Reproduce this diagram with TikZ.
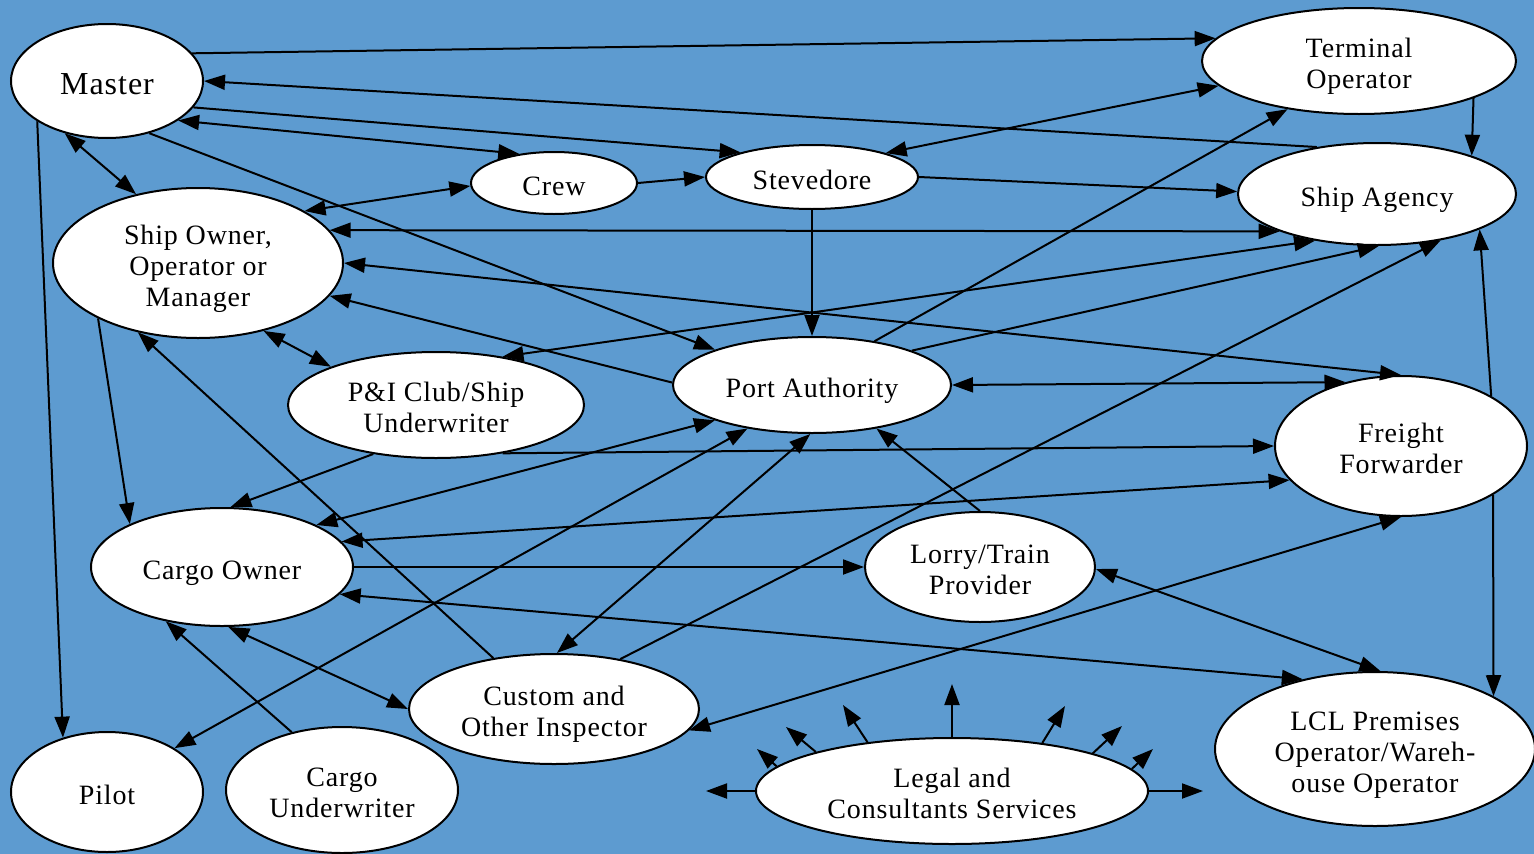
\documentclass[tikz,border=0pt]{standalone}
\usepackage{fontspec}
\setmainfont{Liberation Serif}[LetterSpace=3]
\usetikzlibrary{arrows.meta,shapes.geometric}
\definecolor{bgblue}{RGB}{93,155,208}
% label text: centred lines, set a little below the middle of the ellipse
\newcommand\lbl[1]{\raisebox{-6pt}[\height][\depth]{\begin{tabular}{@{}c@{}}#1\end{tabular}}}
\begin{document}
\begin{tikzpicture}[x=1pt,y=-1pt,
  actor/.style={ellipse, draw=black, fill=white, line width=2pt, inner sep=0pt,
    font=\fontsize{28}{31}\selectfont},
  link/.style={line width=2pt, -{Triangle[length=21pt,width=15pt]}},
  both/.style={line width=2pt, {Triangle[length=21pt,width=15pt]}-{Triangle[length=21pt,width=15pt]}},
]
\fill[bgblue] (0,0) rectangle (1534,854);
\useasboundingbox (0,0) rectangle (1534,854);

% actors
\node[actor, minimum width=192pt, minimum height=114pt, font=\fontsize{32}{35}\selectfont] (M) at (107,81) {\lbl{Master}};
\node[actor, minimum width=314pt, minimum height=106pt] (T) at (1359,61) {\lbl{Terminal\\Operator}};
\node[actor, minimum width=166pt, minimum height=62pt] (C) at (554,183) {\lbl{Crew}};
\node[actor, minimum width=212pt, minimum height=64pt] (S) at (812,177) {\lbl{Stevedore}};
\node[actor, minimum width=278pt, minimum height=102pt] (A) at (1377,194) {\lbl{Ship Agency}};
\node[actor, minimum width=290pt, minimum height=150pt] (O) at (198,263) {\lbl{Ship Owner,\\Operator or\\Manager}};
\node[actor, minimum width=296pt, minimum height=106pt] (P) at (436,405) {\lbl{P\&I Club/Ship\\Underwriter}};
\node[actor, minimum width=278pt, minimum height=96pt] (PA) at (812,385) {\lbl{Port Authority}};
\node[actor, minimum width=252pt, minimum height=140pt] (F) at (1401,446) {\lbl{Freight\\Forwarder}};
\node[actor, minimum width=262pt, minimum height=118pt] (CO) at (222,567) {\lbl{Cargo Owner}};
\node[actor, minimum width=230pt, minimum height=110pt] (L) at (980,567) {\lbl{Lorry/Train\\Provider}};
\node[actor, minimum width=290pt, minimum height=110pt] (CU) at (554,709) {\lbl{Custom and\\Other Inspector}};
\node[actor, minimum width=320pt, minimum height=154pt] (LCL) at (1375,749) {\lbl{LCL Premises\\Operator/Wareh-\\ouse Operator}};
\node[actor, minimum width=192pt, minimum height=120pt] (PI) at (107,792) {\lbl{Pilot}};
\node[actor, minimum width=232pt, minimum height=126pt] (CW) at (342,790) {\lbl{Cargo\\Underwriter}};
\node[actor, minimum width=392pt, minimum height=106pt] (LG) at (952,791) {\lbl{Legal and\\Consultants Services}};

% free ends of the legal services arrows
\coordinate (g1) at (706,791);
\coordinate (g2) at (757,749);
\coordinate (g3) at (786,727);
\coordinate (g4) at (843,705);
\coordinate (g5) at (952,684);
\coordinate (g6) at (1065,706);
\coordinate (g7) at (1122,726);
\coordinate (g8) at (1153,749);
\coordinate (g9) at (1203,791);

% relations
\draw[link] (M.18) -- (T.171.4);
\draw[link] (A.142.8) -- (M.-0.6);
\draw[link] (M.-17.4) -- (S.161.3);
\draw[both] (M.-29.8) -- (C.140.5);
\draw[both] (M.-129.5) -- (O.132.8);
\draw[link] (M.-51.7) -- (PA.160.5);
\draw[link] (M.-150.9) -- (PI.129.2);
\draw[both] (T.-170.7) -- (S.18.9);
\draw[link] (T.-18.1) -- (A.22.3);
\draw[link] (PA.35.2) -- (T.-146.5);
\draw[both] (C.-178.6) -- (O.26.8);
\draw[link] (C.0.7) -- (S.180);
\draw[link] (S.0) -- (A.179.6);
\draw[link] (S.-90) -- (PA.90);
\draw[both] (O.14) -- (A.-159.6);
\draw[both] (O.-0.8) -- (F.90.8);
\draw[link] (PA.179.2) -- (O.-14.9);
\draw[both] (O.-46.3) -- (P.160.3);
\draw[link] (O.-151.9) -- (CO.155.9);
\draw[link] (CU.140.9) -- (O.-131.2);
\draw[both] (P.36.9) -- (A.-143.4);
\draw[link] (PA.19.8) -- (A.-88.9);
\draw[link] (CU.37.4) -- (A.-36.1);
\draw[link] (F.29.8) -- (A.-19.6);
\draw[link] (F.-28.3) -- (LCL.24.8);
\draw[both] (PA.0) -- (F.131.2);
\draw[link] (P.-36.3) -- (F.180);
\draw[link] (P.-142.9) -- (CO.82.3);
\draw[both] (PA.-160) -- (CO.24.6);
\draw[both] (F.-163.9) -- (CO.12.6);
\draw[link] (CO.0) -- (L.180);
\draw[both] (LCL.136.7) -- (CO.-13);
\draw[both] (CO.-84.3) -- (CU.180);
\draw[link] (CW.131.4) -- (CO.-136);
\draw[both] (PA.-146.1) -- (PI.33.5);
\draw[both] (PA.-92.4) -- (CU.87.9);
\draw[link] (L.90) -- (PA.-34.3);
\draw[both] (L.-1.5) -- (LCL.86.3);
\draw[both] (F.-90.8) -- (CU.-9.4);

% legal and consultants services reach out in every direction
\draw[link] (LG.180) -- (g1);
\draw[link] (LG.172.5) -- (g2);
\draw[link] (LG.164.4) -- (g3);
\draw[link] (LG.150.8) -- (g4);
\draw[link] (LG.90) -- (g5);
\draw[link] (LG.28.6) -- (g6);
\draw[link] (LG.15.4) -- (g7);
\draw[link] (LG.7.4) -- (g8);
\draw[link] (LG.0) -- (g9);
\end{tikzpicture}
\end{document}
